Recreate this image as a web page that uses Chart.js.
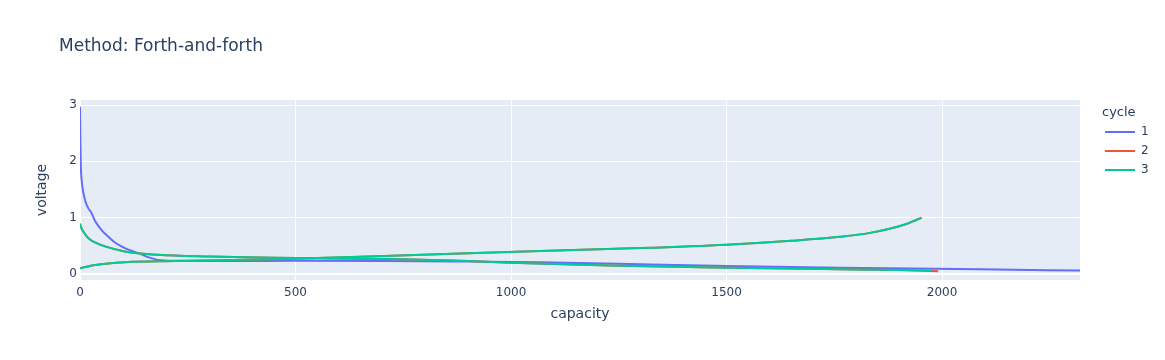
<!DOCTYPE html>
<html>
<head>
<meta charset="utf-8">
<script src="https://cdn.jsdelivr.net/npm/chart.js@4"></script>
<style>
    body { margin: 0; background: #fff; }
</style>
</head>
<body>
<canvas id="chart" width="1165" height="360"></canvas>
<script>
/* values */
var cycleNames = ['1', '2', '3'];
var cycleColors = ['#636efa', '#EF553B', '#00cc96'];

var cap1Dis = [0, 1, 2, 4, 7, 12, 19, 27, 35, 50, 66, 81, 104, 135, 158, 182, 220, 350, 500, 700, 900, 1067, 1250, 1500, 1763, 2088, 2320];
var volt1Dis = [2.97, 2.3, 1.9, 1.65, 1.48, 1.3, 1.17, 1.08, 0.94, 0.78, 0.66, 0.56, 0.46, 0.37, 0.3, 0.25, 0.235, 0.23, 0.235, 0.23, 0.22, 0.21, 0.18, 0.14, 0.11, 0.085, 0.06];

var cap2Dis = [0, 3, 8, 19, 35, 58, 104, 182, 300, 452, 600, 750, 900, 1000, 1100, 1250, 1438, 1600, 1763, 1900, 1991];
var volt2Dis = [0.89, 0.82, 0.75, 0.64, 0.56, 0.49, 0.40, 0.34, 0.31, 0.29, 0.275, 0.26, 0.23, 0.2, 0.175, 0.145, 0.12, 0.1, 0.085, 0.07, 0.05];
var cap2Chg = [0, 10, 35, 104, 220, 452, 742, 1067, 1300, 1500, 1650, 1763, 1833, 1910, 1953];
var volt2Chg = [0.10, 0.12, 0.16, 0.21, 0.23, 0.26, 0.33, 0.41, 0.46, 0.52, 0.59, 0.66, 0.73, 0.87, 1.0];

var cap3Dis = [0, 3, 8, 19, 35, 58, 104, 182, 300, 452, 600, 750, 900, 1000, 1100, 1250, 1438, 1600, 1763, 1900, 1975];
var volt3Dis = [0.89, 0.82, 0.75, 0.64, 0.56, 0.49, 0.40, 0.34, 0.31, 0.29, 0.275, 0.26, 0.23, 0.2, 0.175, 0.145, 0.12, 0.1, 0.085, 0.07, 0.055];
var cap3Chg = [0, 10, 35, 104, 220, 452, 742, 1067, 1300, 1500, 1650, 1763, 1833, 1910, 1950];
var volt3Chg = [0.10, 0.12, 0.16, 0.21, 0.23, 0.26, 0.33, 0.41, 0.46, 0.52, 0.59, 0.66, 0.73, 0.87, 0.99];

var xTicks = [0, 500, 1000, 1500, 2000];
var yTicks = [0, 1, 2, 3];

var titleText = 'Method: Forth-and-forth';
var fontFamily = '"DejaVu Sans", Verdana, sans-serif';
var textColor = '#2a3f5f';

function points(caps, volts) {
    return caps.map(function(c, i) { return {x: c, y: volts[i]}; });
}

function makeSet(cycle, caps, volts) {
    return {
        label: cycleNames[cycle],
        data: points(caps, volts),
        borderColor: cycleColors[cycle],
        borderWidth: 2,
        pointRadius: 0,
        fill: false,
        cubicInterpolationMode: 'monotone',
        order: cycleNames.length - cycle
    };
}

var datasets = [
    makeSet(0, cap1Dis, volt1Dis),
    makeSet(1, cap2Dis, volt2Dis),
    makeSet(1, cap2Chg, volt2Chg),
    makeSet(2, cap3Dis, volt3Dis),
    makeSet(2, cap3Chg, volt3Chg)
];

/* plot background, title and plotly-like legend */
var plotlyLook = {
    id: 'plotlyLook',
    beforeDraw: function(chart) {
        var a = chart.chartArea;
        var ctx = chart.ctx;
        ctx.save();
        ctx.fillStyle = '#E5ECF6';
        ctx.fillRect(a.left, a.top, a.right - a.left, a.bottom - a.top);
        ctx.restore();
    },
    afterDraw: function(chart) {
        var ctx = chart.ctx;
        ctx.save();
        ctx.fillStyle = textColor;
        ctx.textBaseline = 'alphabetic';
        ctx.textAlign = 'left';
        ctx.font = '17px ' + fontFamily;
        ctx.fillText(titleText, 59, 51);

        ctx.textBaseline = 'middle';
        ctx.font = '13px ' + fontFamily;
        ctx.fillText('cycle', 1102, 113);
        ctx.font = '12px ' + fontFamily;
        cycleNames.forEach(function(name, i) {
            var y = 132 + i * 19;
            ctx.strokeStyle = cycleColors[i];
            ctx.lineWidth = 2;
            ctx.beginPath();
            ctx.moveTo(1105, y);
            ctx.lineTo(1135, y);
            ctx.stroke();
            ctx.fillStyle = textColor;
            ctx.fillText(name, 1141, y);
        });
        ctx.restore();
    }
};

var ctx = document.getElementById('chart');
var myChart = new Chart(ctx, {
    type: 'line',
    data: { datasets: datasets },
    plugins: [plotlyLook],
    options: {
        responsive: false,
        animation: false,
        layout: { padding: { left: 0, right: 85, top: 100, bottom: 0 } },
        plugins: {
            legend: { display: false },
            title: { display: false },
            tooltip: { enabled: false }
        },
        scales: {
            x: {
                type: 'linear',
                min: 0,
                max: 2320,
                afterFit: function(scale) { scale.height = 80; },
                afterBuildTicks: function(scale) {
                    scale.ticks = xTicks.map(function(v) { return {value: v}; });
                },
                grid: {
                    color: '#ffffff',
                    lineWidth: function(c) { return c.tick && c.tick.value === 0 ? 2 : 1; },
                    drawTicks: false
                },
                border: { display: false },
                ticks: {
                    color: textColor,
                    font: { family: fontFamily, size: 12 },
                    padding: 6,
                    maxRotation: 0,
                    callback: function(v) { return String(v); }
                },
                title: {
                    display: true,
                    text: 'capacity',
                    color: textColor,
                    font: { family: fontFamily, size: 14 },
                    padding: { top: 0, bottom: 37 }
                }
            },
            y: {
                type: 'linear',
                min: -0.107,
                max: 3.09,
                afterFit: function(scale) { scale.width = 80; },
                afterBuildTicks: function(scale) {
                    scale.ticks = yTicks.map(function(v) { return {value: v}; });
                },
                grid: {
                    color: '#ffffff',
                    lineWidth: function(c) { return c.tick && c.tick.value === 0 ? 2 : 1; },
                    drawTicks: false
                },
                border: { display: false },
                ticks: {
                    color: textColor,
                    font: { family: fontFamily, size: 12 },
                    padding: 3,
                    callback: function(v) { return String(v); }
                },
                title: {
                    display: true,
                    text: 'voltage',
                    color: textColor,
                    font: { family: fontFamily, size: 14 },
                    padding: { top: 34, bottom: 0 }
                }
            }
        }
    }
});
</script>
</body>
</html>
